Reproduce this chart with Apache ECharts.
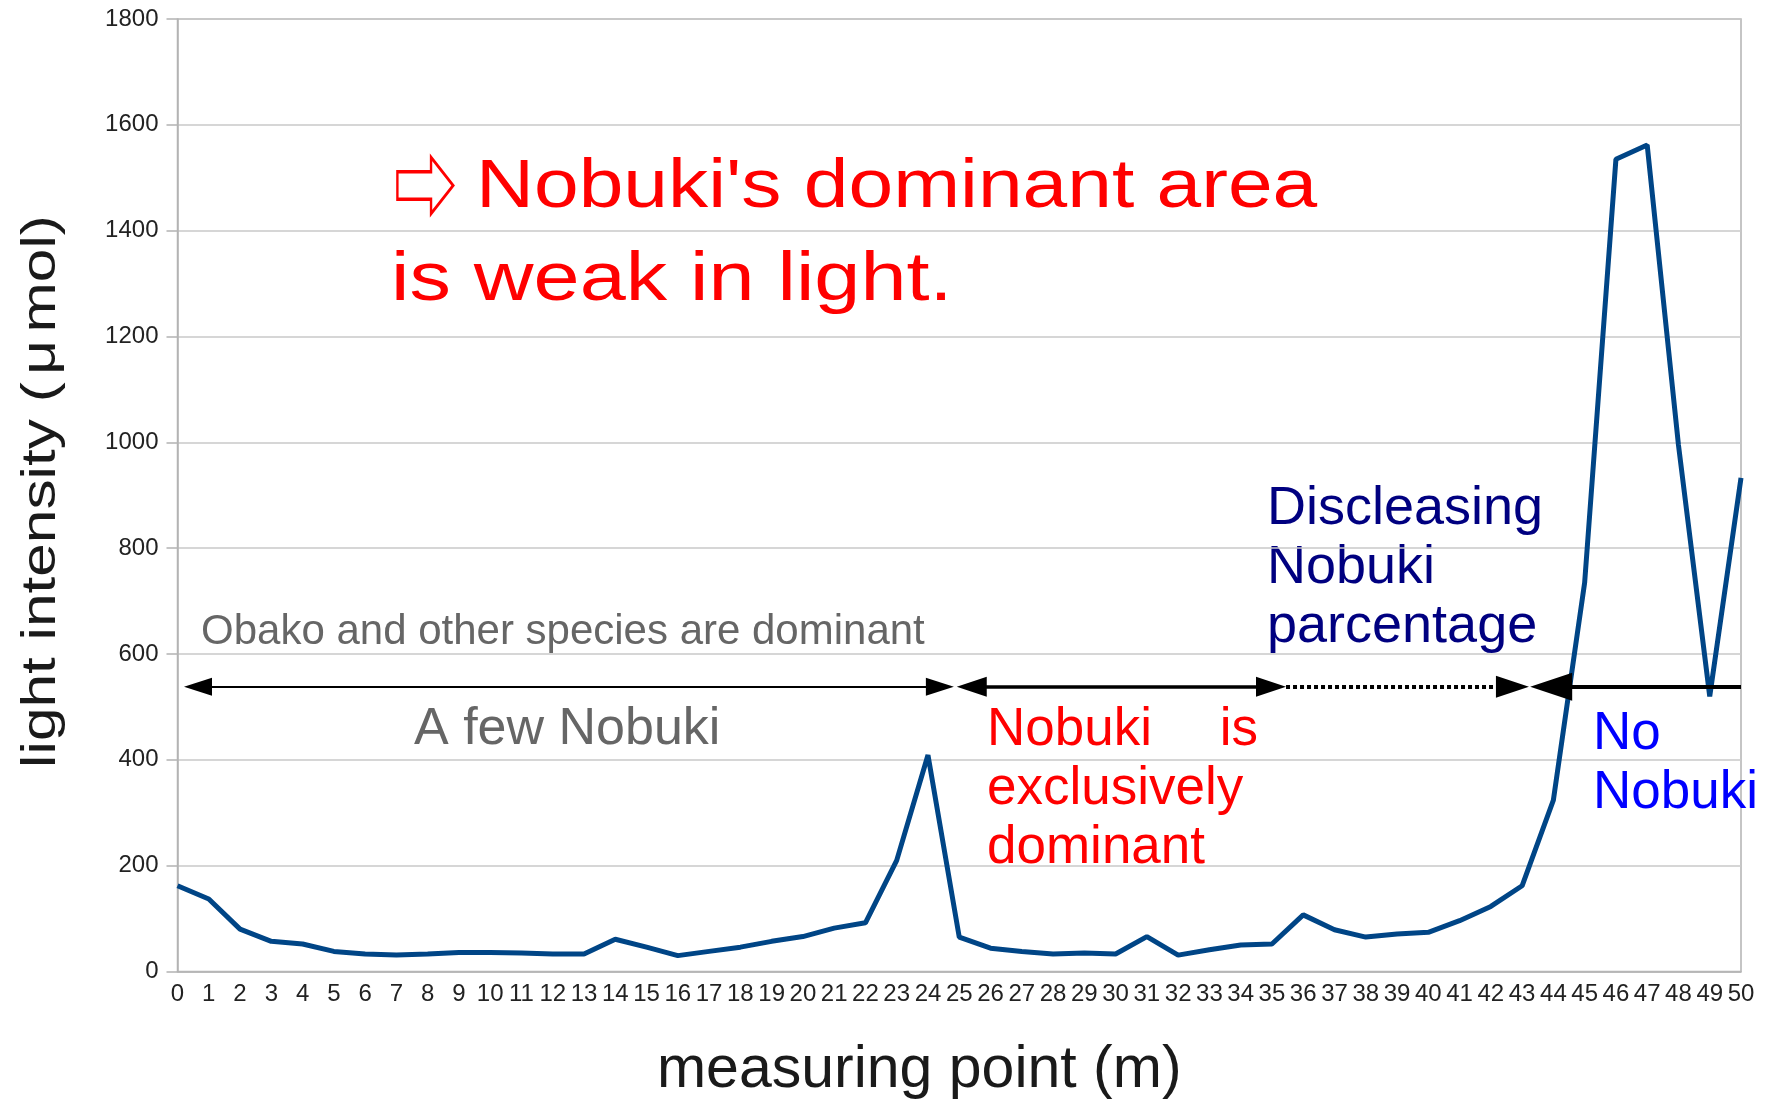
<!DOCTYPE html>
<html><head><meta charset="utf-8">
<script src="https://cdn.jsdelivr.net/npm/echarts@6/dist/echarts.min.js"></script>
<style>html,body{margin:0;padding:0;background:#fff}#c{width:1771px;height:1099px}</style>
</head><body><div id="c"></div>
<script>
// ---- data ----
const measuringPoints = [0,1,2,3,4,5,6,7,8,9,10,11,12,13,14,15,16,17,18,19,20,21,22,23,24,25,26,27,28,29,30,31,32,33,34,35,36,37,38,39,40,41,42,43,44,45,46,47,48,49,50];
const lightIntensity = [162,137,80,57,52,38,33,31,33,36,36,35,33,33,61,46,30,38,46,57,66,82,92,210,409,65,44,38,33,35,33,66,31,41,50,52,107,79,65,71,74,96,123,162,324,735,1535,1562,995,520,933];
const yTicks = [0,200,400,600,800,1000,1200,1400,1600,1800];
const xTitle = 'measuring point (m)';
const yTitle = 'light intensity ({mu|μ}mol)';
const headArrow = '⇨';
const headline1 = "Nobuki's dominant area";
const headline2 = 'is weak in light.';
const noteObako = 'Obako and other species are dominant';
const noteFew = 'A few Nobuki';
const noteExclusive = 'Nobuki\u3000 is\nexclusively\ndominant';
const noteDecreasing = 'Discleasing\nNobuki\nparcentage';
const noteNone = 'No\nNobuki';

// zone arrows (x in measuring-point units, y in light units)
const arrowLevel = 538;

const FONT = '"Liberation Sans", Arial, "DejaVu Sans", sans-serif';
const CJK = '"Noto Sans CJK JP", "DejaVu Sans", sans-serif';
const chart = echarts.init(document.getElementById('c'), null, {renderer: 'canvas'});

function tri(w, h) { return {symbol: 'triangle', symbolSize: [w, h]}; }
const noSym = {symbol: 'none'};

const option = {
  animation: false,
  backgroundColor: '#ffffff',
  grid: {left: 177.5, right: 30, top: 19, bottom: 127.5, show: true, borderColor: '#b3b3b3', borderWidth: 1.5,
         containLabel: false, outerBoundsMode: 'none'},
  xAxis: {
    type: 'value', min: measuringPoints[0], max: measuringPoints[measuringPoints.length - 1], interval: 1,
    axisLine: {show: true, lineStyle: {color: '#b3b3b3', width: 1.5}},
    axisTick: {show: false}, splitLine: {show: false},
    axisLabel: {fontSize: 24, fontFamily: FONT, color: '#222', margin: 11, showMinLabel: true, showMaxLabel: true, hideOverlap: false,
                formatter: v => String(v)},
    name: xTitle, nameLocation: 'middle', nameGap: 70, nameMoveOverlap: false,
    nameTextStyle: {fontSize: 59, fontFamily: FONT, color: '#1a1a1a', padding: [0, 80, 0, 0]}
  },
  yAxis: {
    type: 'value', min: yTicks[0], max: yTicks[yTicks.length - 1], interval: yTicks[1] - yTicks[0],
    axisLine: {show: true, lineStyle: {color: '#b3b3b3', width: 1.5}},
    axisTick: {show: true, length: 11, lineStyle: {color: '#b3b3b3', width: 1.5}},
    splitLine: {show: true, lineStyle: {color: '#c8c8c8', width: 1.5}},
    axisLabel: {fontSize: 24, fontFamily: FONT, color: '#222', margin: 19, formatter: v => String(v)}
  },
  series: [
    {
      type: 'line', name: 'zones', data: [], z: 2, silent: true,
      markLine: {
        silent: true, animation: false, label: {show: false}, emphasis: {disabled: true},
        data: [
          [Object.assign({coord: [0.655, arrowLevel], lineStyle: {color: '#000', width: 2, type: 'solid'}}, tri(18, 28)),
           Object.assign({coord: [24.38, arrowLevel], lineStyle: {color: '#000', width: 2, type: 'solid'}}, tri(18, 28))],
          [Object.assign({coord: [25.40, arrowLevel], lineStyle: {color: '#000', width: 3.5, type: 'solid'}}, tri(20, 30)),
           Object.assign({coord: [34.97, arrowLevel], lineStyle: {color: '#000', width: 3.5, type: 'solid'}}, tri(20, 30))],
          [Object.assign({coord: [35.45, arrowLevel], lineStyle: {color: '#000', width: 4, type: [4, 3]}}, noSym),
           Object.assign({coord: [42.69, arrowLevel], lineStyle: {color: '#000', width: 4, type: [4, 3]}}, tri(22, 33))],
          [Object.assign({coord: [43.93, arrowLevel], lineStyle: {color: '#000', width: 4, type: 'solid'}}, tri(28, 42)),
           Object.assign({coord: [50, arrowLevel], lineStyle: {color: '#000', width: 4, type: 'solid'}}, noSym)]
        ]
      }
    },
    {
      type: 'line', name: 'light intensity', z: 3,
      data: measuringPoints.map((x, i) => [x, lightIntensity[i]]),
      symbol: 'none', showSymbol: false, smooth: false,
      lineStyle: {color: '#004586', width: 5}, itemStyle: {color: '#004586'}
    }
  ],
  graphic: [
    // y-axis title (rotated, stretched along the baseline like the original)
    {type: 'text', x: 42, y: 491.5, rotation: Math.PI / 2, scaleX: 1.257, silent: true,
     style: {text: yTitle, fontSize: 48, fontFamily: FONT, fill: '#1a1a1a', align: 'center', verticalAlign: 'middle',
             rich: {mu: {fontSize: 48, fontFamily: FONT, fill: '#1a1a1a', padding: [0, 6, 0, 6]}}}},
    // headline
    {type: 'text', x: 393, y: 186, scaleX: 0.69, silent: true,
     style: {text: headArrow, fontSize: 93, fontFamily: CJK, fill: '#ff0000', align: 'left', verticalAlign: 'middle'}},
    {type: 'text', x: 476, y: 187.6, scaleX: 1.164, silent: true,
     style: {text: headline1, fontSize: 69, fontFamily: FONT, fill: '#ff0000', align: 'left', verticalAlign: 'middle'}},
    {type: 'text', x: 391, y: 280.5, scaleX: 1.20, silent: true,
     style: {text: headline2, fontSize: 69, fontFamily: FONT, fill: '#ff0000', align: 'left', verticalAlign: 'middle'}},
    // zone notes
    {type: 'text', x: 201, y: 632, silent: true,
     style: {text: noteObako, fontSize: 42, fontFamily: FONT, fill: '#666666', align: 'left', verticalAlign: 'middle'}},
    {type: 'text', x: 414, y: 730, silent: true,
     style: {text: noteFew, fontSize: 52, fontFamily: FONT, fill: '#666666', align: 'left', verticalAlign: 'middle'}},
    {type: 'text', x: 987, y: 700.5, silent: true,
     style: {text: noteExclusive, fontSize: 53, fontFamily: FONT, fill: '#ff0000', lineHeight: 59.2, align: 'left', verticalAlign: 'top'}},
    {type: 'text', x: 1267, y: 479.5, silent: true,
     style: {text: noteDecreasing, fontSize: 54, fontFamily: FONT, fill: '#000080', lineHeight: 59, align: 'left', verticalAlign: 'top'}},
    {type: 'text', x: 1593, y: 705, silent: true,
     style: {text: noteNone, fontSize: 53, fontFamily: FONT, fill: '#0000ff', lineHeight: 59, align: 'left', verticalAlign: 'top'}}
  ]
};
chart.setOption(option);
</script>
</body></html>
